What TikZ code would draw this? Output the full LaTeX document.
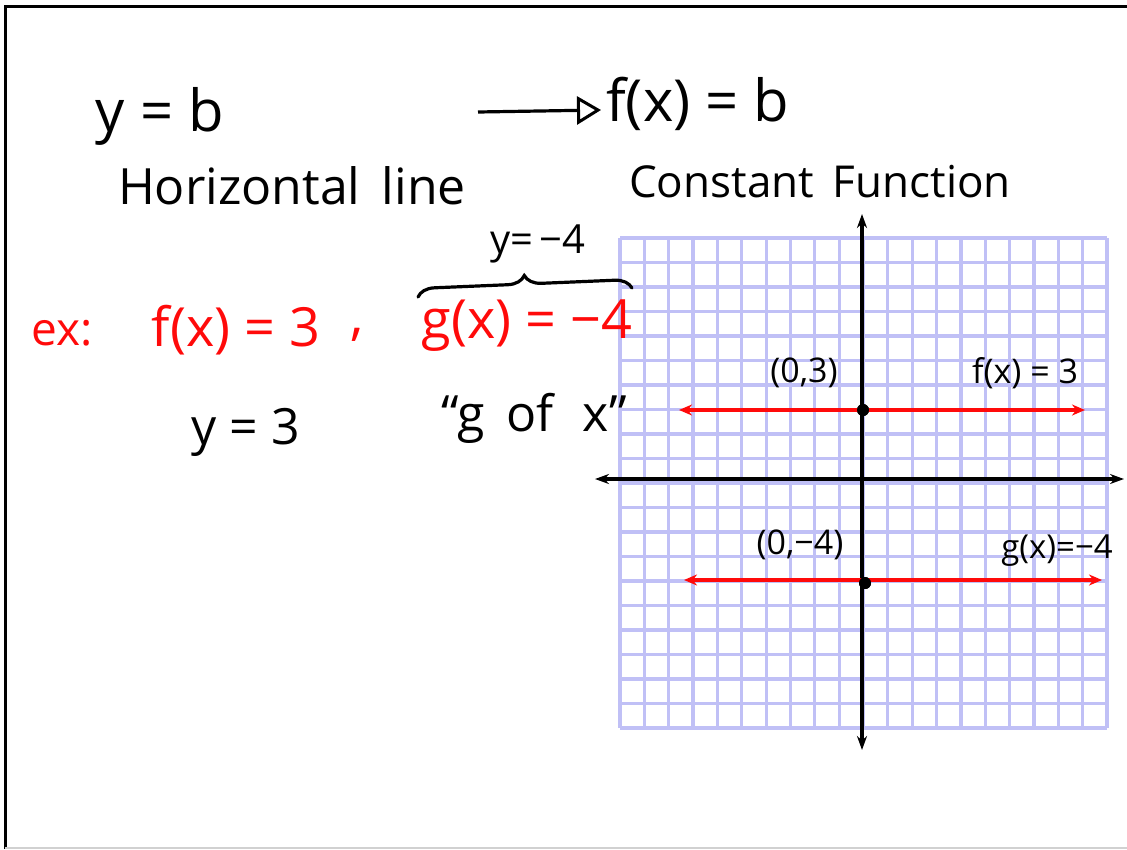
\documentclass[tikz,border=0pt]{standalone}
\usepackage{fontspec}
\setmainfont{Open Sans}
\usetikzlibrary{arrows.meta,decorations.pathreplacing}
\definecolor{gridc}{RGB}{192,192,246}
\definecolor{inkred}{RGB}{255,10,10}
\tikzset{
  txt/.style={inner sep=0pt, anchor=center},
  big/.style={txt, font=\fontsize{#1}{#1}\selectfont},
  axis/.style={line width=3.4pt, {Stealth[length=14pt,width=10pt]}-{Stealth[length=14pt,width=10pt]}},
  redline/.style={inkred, line width=3.6pt, {Stealth[length=13pt,width=11pt]}-{Stealth[length=13pt,width=11pt]}},
  dot/.style={circle, fill=black, inner sep=0pt, minimum size=12pt},
  ink/.style={line width=3.2pt, line cap=round},
}
\begin{document}
\begin{tikzpicture}[x=1pt,y=-1pt]
\useasboundingbox (0,0) rectangle (1127,849);
% frame
\draw[line width=3pt] (1127,6) -- (5,6) -- (5,849);
\draw[black!18, line width=2pt] (5,848) -- (1127,848);
% grid
\foreach \i in {0,...,20} {
  \draw[gridc, line width=3.2pt] ({620+\i*24.35},238) -- ({620+\i*24.35},728);
  \draw[gridc, line width=3.2pt] (620,{238+\i*24.5}) -- (1107,{238+\i*24.5});
}
% text top
\node[big=58pt] (yb) at (160,116) {y = b};
\coordinate (arrstart) at (478,112);
\coordinate (arrend) at (601,110);
\node[big=58pt, anchor=west] (fxb) at (606,104) {f(x) = b};
\draw[ink, line cap=butt, -{Triangle[open,length=24pt,width=28pt,line width=3pt]}] (arrstart) -- (arrend);
\node[big=50pt] (hline) at (292,186) {Horizontal\, line};
\node[big=44pt] (const) at (820,182) {Constant\, Function};
% example
\node[big=40pt] (ym4) at (538,244) {y=\,−4};
\node[big=46pt, inkred] (ex) at (62,333) {ex:};
\node[big=54pt, inkred] (f3) at (236,330) {f(x) = 3};
\node[big=54pt, inkred] (comma) at (357,335) {,};
\node[big=54pt, inkred] (g4) at (527,326) {g(x) = −4};
\coordinate (brl) at (418,297);
\coordinate (brr) at (632,288);
\draw[ink, decorate, decoration={brace, amplitude=17pt, aspect=0.5}] (brl) -- (brr);
\node[big=50pt] (y3) at (246,432) {y = 3};
\node[big=50pt] (gofx) at (534,418) {“g\, of\,\, x”};
% axes
\coordinate (xl) at (595,479);
\coordinate (xr) at (1124,479);
\coordinate (yt) at (862,214);
\coordinate (yd) at (862,750);
\draw[axis] (xl) -- (xr);
\draw[axis] (yt) -- (yd);
% lines and points
\node[dot] (p3) at (863,410) {};
\node[dot] (pm4) at (865,583) {};
\coordinate (fl) at (679,410);
\coordinate (fr) at (1085,410);
\coordinate (gl) at (684,580);
\coordinate (gr) at (1102,580);
\draw[redline] (fl) -- (fr);
\draw[redline] (gl) -- (gr);
\node[dot] at (p3) {};
\node[dot] at (pm4) {};
% labels
\node[big=34pt] (l03) at (804,373) {(0,3)};
\node[big=34pt] (lf3) at (1025,373) {f(x) = 3};
\node[big=34pt] (l04) at (800,545) {(0,−4)};
\node[big=33pt] (lg4) at (1057,551) {g(x)=−4};
\end{tikzpicture}
\end{document}
